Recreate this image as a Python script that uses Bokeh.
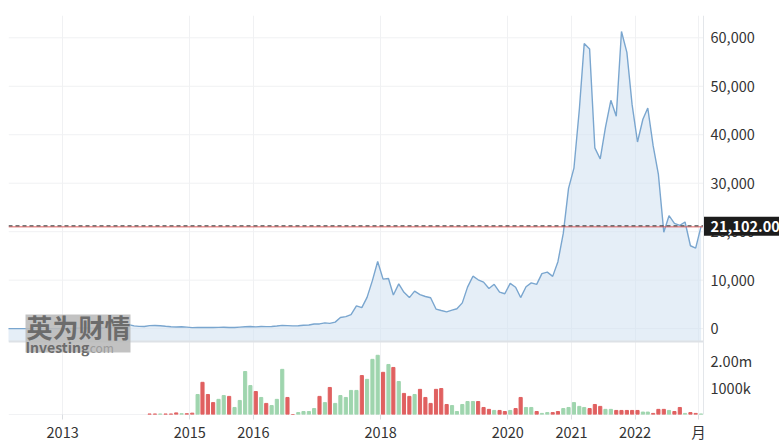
import numpy as np
import pandas as pd
from bokeh.plotting import figure
from bokeh.models import Range1d, FixedTicker, Span, Label, BoxAnnotation, ColumnDataSource
from bokeh.core.properties import value
from bokeh.embed import file_html
from bokeh.resources import INLINE

# ---------------- data ----------------
price_start = "2012-02-01"   # monthly closes
price_close = [
    4.9, 4.9, 5.0, 5.2, 6.7, 9.4, 10.2, 12.4, 11.2, 12.6, 13.5,                      # 2012
    20.4, 33.4, 93, 139, 129, 97, 106, 135, 133, 204, 1205, 757,                     # 2013
    832, 573, 457, 448, 628, 640, 586, 479, 387, 338, 378, 320,                      # 2014
    217, 254, 244, 236, 230, 263, 284, 230, 236, 314, 377, 430,                      # 2015
    368, 437, 416, 448, 531, 673, 624, 575, 609, 698, 742, 964,                      # 2016
    970, 1190, 1080, 1348, 2300, 2480, 2875, 4700, 4340, 6450, 9950, 13850,          # 2017
    10220, 10330, 6930, 9240, 7500, 6400, 7730, 7030, 6630, 6370, 4040, 3740,        # 2018
    3460, 3810, 4100, 5320, 8560, 10820, 10080, 9590, 8290, 9150, 7550, 7190,        # 2019
    9350, 8540, 6410, 8630, 9450, 9140, 11350, 11650, 10780, 13800, 19700, 28950,    # 2020
    33100, 45200, 58800, 57700, 37300, 35000, 41500, 47100, 43800, 61300, 57000, 46200,  # 2021
    38500, 43200, 45500, 37700, 31800, 19900, 23300, 21700, 21300, 22000, 17100, 16600,  # 2022
    21102,                                                                            # 2023
]

volume_start = "2014-05-01"   # monthly volume, millions
volume_m = [
    0.02, 0.02, 0.02, 0.02, 0.02, 0.06, 0.03, 0.03,                                   # 2014
    0.05, 0.74, 1.19, 0.74, 0.44, 0.56, 0.70, 0.67, 0.26, 0.52, 1.59, 1.07,          # 2015
    0.85, 0.63, 0.41, 0.33, 0.56, 1.67, 0.63, 0.00, 0.07, 0.11, 0.11, 0.22,          # 2016
    0.67, 0.44, 1.00, 0.41, 0.70, 0.63, 0.89, 0.89, 1.44, 1.30, 2.04, 2.19,          # 2017
    1.56, 1.85, 1.74, 1.22, 0.78, 0.67, 0.74, 0.93, 0.63, 0.41, 0.93, 0.96,          # 2018
    0.37, 0.33, 0.11, 0.37, 0.48, 0.48, 0.48, 0.26, 0.19, 0.15, 0.15, 0.11,          # 2019
    0.15, 0.22, 0.63, 0.26, 0.26, 0.11, 0.04, 0.07, 0.07, 0.11, 0.22, 0.26,          # 2020
    0.44, 0.30, 0.26, 0.22, 0.37, 0.30, 0.19, 0.19, 0.15, 0.15, 0.15, 0.15,          # 2021
    0.15, 0.09, 0.09, 0.04, 0.19, 0.19, 0.15, 0.11, 0.26, 0.04, 0.07, 0.04,          # 2022
    0.02,                                                                             # 2023
]
volume_dir = ("rrgrrrgr" + "rgrrrggrgggg" + "rgrgggrrgggg" + "rgrgggggrggg" +
              "rgrgrrgrrrrr" + "rgggggrrrgrr" + "grrggrggrrgg" + "gggrrrggrrrr" +
              "rggrrrgrrgrr" + "g")

year_ticks = ["2013-01-01", "2015-01-01", "2016-01-01", "2018-01-01",
              "2020-01-01", "2021-01-01", "2022-01-01", "2023-01-01"]
year_labels = ["2013", "2015", "2016", "2018", "2020", "2021", "2022", "月"]
price_ticks = [0, 10000, 20000, 30000, 40000, 50000, 60000]
volume_ticks = [1000000, 2000000]
volume_tick_labels = ["1000k", "2.00m"]

# ---------------- layout constants (picture pixels) ----------------
FONT = "Noto Sans CJK SC"
FS = "14.5px"
TXT = "#333333"
AXIS_C = "#e3e6ea"
GRID_C = "#f0f1f3"
SEP_C = "#dde1e6"
LEFT = 8            # frame left
PLOT_R = 703        # right edge of the plotting area (axis line)
FULL_W = 771        # frame runs to the picture edge
TOP_PX = 15         # frame top
SPLIT_PX = 341      # price panel / volume panel boundary
BOT_PX = 414        # frame bottom
X0 = pd.Timestamp("2012-02-25")      # date at LEFT
X1 = pd.Timestamp("2023-01-29")      # date at PLOT_R
P_TOP, P_PER_PX = 64600, 206.3       # price at TOP_PX, price per pixel
V_PER_PX = 2.70e6 / (BOT_PX - SPLIT_PX)


def page_x(px):
    return (X0 + (X1 - X0) * ((px - LEFT) / (PLOT_R - LEFT))).value / 1e6


def price_y(py):
    return P_TOP - (py - TOP_PX) * P_PER_PX


def vol_y(py):
    return (BOT_PX - py) * V_PER_PX


XA, XB = page_x(LEFT), page_x(PLOT_R)
P_SPLIT = price_y(SPLIT_PX)
V_SPLIT = vol_y(SPLIT_PX)
half_month = pd.Timedelta(days=14)
pdates = pd.date_range(price_start, periods=len(price_close), freq="MS") + half_month
vdates = pd.date_range(volume_start, periods=len(volume_m), freq="MS") + half_month
tick_ms = [pd.Timestamp(t).value // 10**6 for t in year_ticks]

p = figure(x_axis_type="datetime",
           x_range=Range1d(XA, page_x(LEFT + FULL_W)),
           y_range=Range1d(price_y(BOT_PX), price_y(TOP_PX)),
           frame_width=FULL_W, frame_height=BOT_PX - TOP_PX,
           min_border_left=LEFT, min_border_right=0, min_border_top=TOP_PX, min_border_bottom=0,
           y_axis_location=None, output_backend="svg", toolbar_location=None)
p.extra_y_ranges = {"vol": Range1d(vol_y(BOT_PX), vol_y(TOP_PX))}
p.outline_line_color = None
p.xgrid.ticker = FixedTicker(ticks=tick_ms)
p.xgrid.grid_line_color = GRID_C
p.ygrid.grid_line_color = None

# ---------------- price panel ----------------
tick_src = ColumnDataSource(dict(y=price_ticks, label=[f"{t:,}" for t in price_ticks]))
p.segment(x0=XA, x1=XB, y0="y", y1="y", source=tick_src, line_color=GRID_C, line_width=1)

psrc = ColumnDataSource(dict(x=pdates, y=price_close))
p.varea(x="x", y1=P_SPLIT, y2="y", source=psrc, fill_color="#cfe0f0", fill_alpha=0.55)
p.line(x="x", y="y", source=psrc, line_color="#7aa6cf", line_width=1.4)

p.text(x=page_x(PLOT_R + 7), y="y", text="label", source=tick_src,
       text_font=value(FONT), text_font_size=FS, text_color=TXT,
       text_align="left", text_baseline="middle")

# last price lines and tag
last_close = price_close[-1]
p.segment(x0=XA, x1=XB, y0=last_close - 0.5 * P_PER_PX, y1=last_close - 0.5 * P_PER_PX,
          line_color="#e05c5c", line_width=1)
p.segment(x0=XA, x1=XB, y0=last_close + 0.5 * P_PER_PX, y1=last_close + 0.5 * P_PER_PX,
          line_color="#333333", line_width=1, line_dash="4 3")
p.quad(left=XB, right=page_x(LEFT + FULL_W + 20),
       bottom=last_close - 9.5 * P_PER_PX, top=last_close + 9.5 * P_PER_PX,
       fill_color="#1c1c1c", line_color=None)
p.text(x=page_x(PLOT_R + 7), y=last_close, text=[f"{last_close:,.2f}"],
       text_font=value(FONT), text_font_size=FS, text_font_style="bold",
       text_color="white", text_align="left", text_baseline="middle")

# ---------------- volume panel ----------------
p.segment(x0=XA, x1=XB, y0=P_SPLIT, y1=P_SPLIT, line_color=SEP_C, line_width=2)
p.segment(x0=XA, x1=XB, y0=0, y1=0, line_color=AXIS_C, line_width=1, y_range_name="vol")

colors = ["#9fd5ae" if d == "g" else "#e06060" for d in volume_dir]
vsrc = ColumnDataSource(dict(x=vdates, top=np.array(volume_m) * 1e6, color=colors))
p.vbar(x="x", bottom=0, top="top", width=18 * 86400000, color="color", source=vsrc,
       y_range_name="vol")

vt_src = ColumnDataSource(dict(y=volume_ticks, label=volume_tick_labels))
p.text(x=page_x(PLOT_R + 7), y="y", text="label", source=vt_src, y_range_name="vol",
       text_font=value(FONT), text_font_size=FS, text_color=TXT,
       text_align="left", text_baseline="middle")

# right axis line, full height
p.add_layout(Span(location=XB, dimension="height", line_color=AXIS_C, line_width=1))

# bottom axis
xa = p.xaxis[0]
xa.ticker = FixedTicker(ticks=tick_ms)
xa.major_label_overrides = dict(zip(tick_ms, year_labels))
xa.axis_line_color = None
xa.major_tick_line_color = "#dadde1"
xa.major_tick_out = 5
xa.major_tick_in = 0
xa.minor_tick_line_color = None
xa.major_label_standoff = 1
xa.major_label_text_font = FONT
xa.major_label_text_font_size = FS
xa.major_label_text_color = TXT

# watermark
p.add_layout(BoxAnnotation(left=page_x(25), right=page_x(130),
                           top=price_y(314), bottom=price_y(352),
                           fill_color="#b9b9b9", fill_alpha=0.88, line_color=None))
p.add_layout(Label(x=page_x(26), y=price_y(325.5), text="英为财情",
                   text_align="left", text_baseline="middle", text_font=FONT,
                   text_font_size="26px", text_font_style="bold", text_color="#6c6c6c"))
p.add_layout(Label(x=page_x(25), y=price_y(346), text="Investing",
                   text_align="left", text_baseline="middle", text_font=FONT,
                   text_font_size="14px", text_font_style="bold", text_color="#6c6c6c"))
p.add_layout(Label(x=page_x(86), y=price_y(346.5), text=".com",
                   text_align="left", text_baseline="middle", text_font=FONT,
                   text_font_size="12px", text_color="#9c9c9c"))

open("out.html", "w").write(file_html(p, INLINE))
